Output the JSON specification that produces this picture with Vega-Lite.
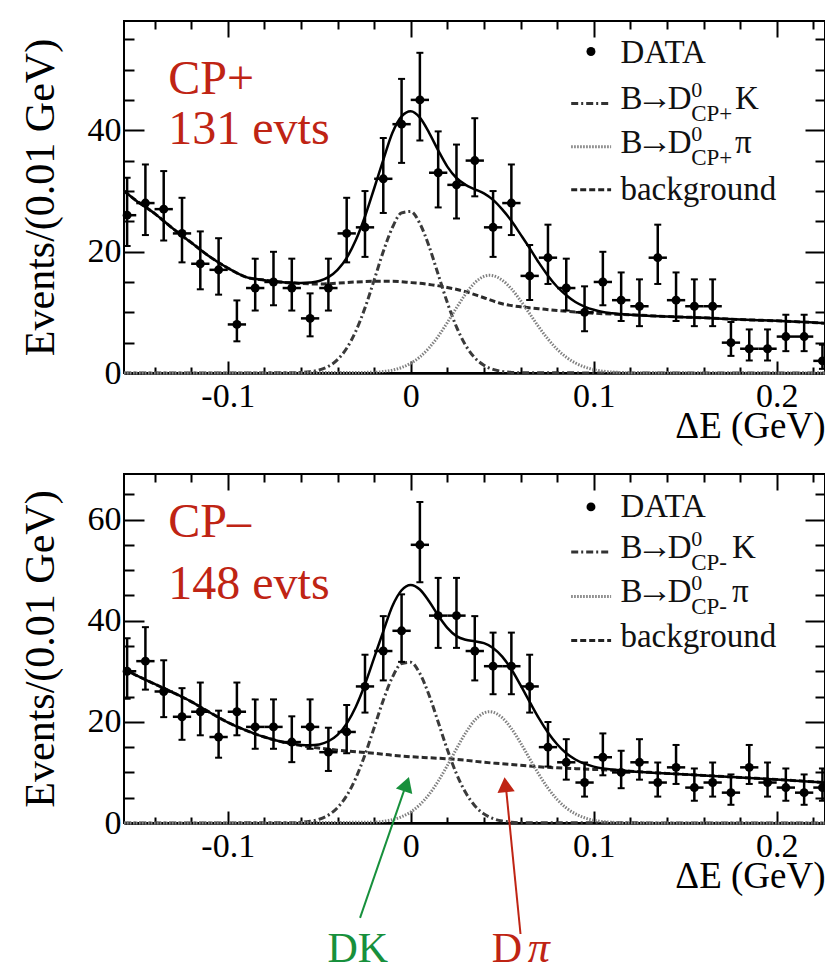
{
"$schema": "https://vega.github.io/schema/vega-lite/v6.json",
"padding": {"left": 18, "top": 19, "right": 0, "bottom": 0},
"background": "white",
"bounds": "flush",
"spacing": 101,
"datasets": {
"tD": [
{"x":-0.155,"x0":-0.16,"x1":-0.15,"n":26,"lo":20.93,"hi":32.17},
{"x":-0.145,"x0":-0.15,"x1":-0.14,"n":28,"lo":22.73,"hi":34.36},
{"x":-0.135,"x0":-0.14,"x1":-0.13,"n":27,"lo":21.83,"hi":33.27},
{"x":-0.125,"x0":-0.13,"x1":-0.12,"n":23,"lo":18.23,"hi":28.87},
{"x":-0.115,"x0":-0.12,"x1":-0.11,"n":18,"lo":13.79,"hi":23.33},
{"x":-0.105,"x0":-0.11,"x1":-0.1,"n":17,"lo":12.91,"hi":22.21},
{"x":-0.095,"x0":-0.1,"x1":-0.09,"n":8,"lo":5.22,"hi":11.96},
{"x":-0.085,"x0":-0.09,"x1":-0.08,"n":14,"lo":10.29,"hi":18.84},
{"x":-0.075,"x0":-0.08,"x1":-0.07,"n":15,"lo":11.16,"hi":19.97},
{"x":-0.065,"x0":-0.07,"x1":-0.06,"n":14,"lo":10.29,"hi":18.84},
{"x":-0.055,"x0":-0.06,"x1":-0.05,"n":9,"lo":6.04,"hi":13.12},
{"x":-0.045,"x0":-0.05,"x1":-0.04,"n":14,"lo":10.29,"hi":18.84},
{"x":-0.035,"x0":-0.04,"x1":-0.03,"n":23,"lo":18.23,"hi":28.87},
{"x":-0.025,"x0":-0.03,"x1":-0.02,"n":24,"lo":19.13,"hi":29.98},
{"x":-0.015,"x0":-0.02,"x1":-0.01,"n":32,"lo":26.37,"hi":38.72},
{"x":-0.005,"x0":-0.01,"x1":0,"n":41,"lo":34.62,"hi":48.46},
{"x":0.005,"x0":0,"x1":0.01,"n":45,"lo":38.31,"hi":52.76},
{"x":0.015,"x0":0.01,"x1":0.02,"n":33,"lo":27.28,"hi":39.81},
{"x":0.025,"x0":0.02,"x1":0.03,"n":31,"lo":25.46,"hi":37.64},
{"x":0.035,"x0":0.03,"x1":0.04,"n":35,"lo":29.11,"hi":41.98},
{"x":0.045,"x0":0.04,"x1":0.05,"n":24,"lo":19.13,"hi":29.98},
{"x":0.055,"x0":0.05,"x1":0.06,"n":28,"lo":22.73,"hi":34.36},
{"x":0.065,"x0":0.06,"x1":0.07,"n":16,"lo":12.03,"hi":21.09},
{"x":0.075,"x0":0.07,"x1":0.08,"n":19,"lo":14.67,"hi":24.44},
{"x":0.085,"x0":0.08,"x1":0.09,"n":14,"lo":10.29,"hi":18.84},
{"x":0.095,"x0":0.09,"x1":0.1,"n":10,"lo":6.88,"hi":14.28},
{"x":0.105,"x0":0.1,"x1":0.11,"n":15,"lo":11.16,"hi":19.97},
{"x":0.115,"x0":0.11,"x1":0.12,"n":12,"lo":8.57,"hi":16.57},
{"x":0.125,"x0":0.12,"x1":0.13,"n":11,"lo":7.72,"hi":15.43},
{"x":0.135,"x0":0.13,"x1":0.14,"n":19,"lo":14.67,"hi":24.44},
{"x":0.145,"x0":0.14,"x1":0.15,"n":12,"lo":8.57,"hi":16.57},
{"x":0.155,"x0":0.15,"x1":0.16,"n":11,"lo":7.72,"hi":15.43},
{"x":0.165,"x0":0.16,"x1":0.17,"n":11,"lo":7.72,"hi":15.43},
{"x":0.175,"x0":0.17,"x1":0.18,"n":5,"lo":2.82,"hi":8.4},
{"x":0.185,"x0":0.18,"x1":0.19,"n":4,"lo":2.06,"hi":7.18},
{"x":0.195,"x0":0.19,"x1":0.2,"n":4,"lo":2.06,"hi":7.18},
{"x":0.205,"x0":0.2,"x1":0.21,"n":6,"lo":3.6,"hi":9.6},
{"x":0.215,"x0":0.21,"x1":0.22,"n":6,"lo":3.6,"hi":9.6},
{"x":0.225,"x0":0.22,"x1":0.23,"n":2,"lo":0.68,"hi":4.66}
],
"bD": [
{"x":-0.155,"x0":-0.16,"x1":-0.15,"n":30,"lo":24.55,"hi":36.55},
{"x":-0.145,"x0":-0.15,"x1":-0.14,"n":32,"lo":26.37,"hi":38.72},
{"x":-0.135,"x0":-0.14,"x1":-0.13,"n":26,"lo":20.93,"hi":32.17},
{"x":-0.125,"x0":-0.13,"x1":-0.12,"n":21,"lo":16.45,"hi":26.66},
{"x":-0.115,"x0":-0.12,"x1":-0.11,"n":22,"lo":17.34,"hi":27.77},
{"x":-0.105,"x0":-0.11,"x1":-0.1,"n":17,"lo":12.91,"hi":22.21},
{"x":-0.095,"x0":-0.1,"x1":-0.09,"n":22,"lo":17.34,"hi":27.77},
{"x":-0.085,"x0":-0.09,"x1":-0.08,"n":19,"lo":14.67,"hi":24.44},
{"x":-0.075,"x0":-0.08,"x1":-0.07,"n":19,"lo":14.67,"hi":24.44},
{"x":-0.065,"x0":-0.07,"x1":-0.06,"n":16,"lo":12.03,"hi":21.09},
{"x":-0.055,"x0":-0.06,"x1":-0.05,"n":19,"lo":14.67,"hi":24.44},
{"x":-0.045,"x0":-0.05,"x1":-0.04,"n":14,"lo":10.29,"hi":18.84},
{"x":-0.035,"x0":-0.04,"x1":-0.03,"n":18,"lo":13.79,"hi":23.33},
{"x":-0.025,"x0":-0.03,"x1":-0.02,"n":27,"lo":21.83,"hi":33.27},
{"x":-0.015,"x0":-0.02,"x1":-0.01,"n":34,"lo":28.19,"hi":40.9},
{"x":-0.005,"x0":-0.01,"x1":0,"n":38,"lo":31.86,"hi":45.21},
{"x":0.005,"x0":0,"x1":0.01,"n":55,"lo":47.6,"hi":63.47},
{"x":0.015,"x0":0.01,"x1":0.02,"n":41,"lo":34.62,"hi":48.46},
{"x":0.025,"x0":0.02,"x1":0.03,"n":41,"lo":34.62,"hi":48.46},
{"x":0.035,"x0":0.03,"x1":0.04,"n":34,"lo":28.19,"hi":40.9},
{"x":0.045,"x0":0.04,"x1":0.05,"n":31,"lo":25.46,"hi":37.64},
{"x":0.055,"x0":0.05,"x1":0.06,"n":31,"lo":25.46,"hi":37.64},
{"x":0.065,"x0":0.06,"x1":0.07,"n":27,"lo":21.83,"hi":33.27},
{"x":0.075,"x0":0.07,"x1":0.08,"n":15,"lo":11.16,"hi":19.97},
{"x":0.085,"x0":0.08,"x1":0.09,"n":12,"lo":8.57,"hi":16.57},
{"x":0.095,"x0":0.09,"x1":0.1,"n":8,"lo":5.22,"hi":11.96},
{"x":0.105,"x0":0.1,"x1":0.11,"n":13,"lo":9.43,"hi":17.71},
{"x":0.115,"x0":0.11,"x1":0.12,"n":10,"lo":6.88,"hi":14.28},
{"x":0.125,"x0":0.12,"x1":0.13,"n":12,"lo":8.57,"hi":16.57},
{"x":0.135,"x0":0.13,"x1":0.14,"n":8,"lo":5.22,"hi":11.96},
{"x":0.145,"x0":0.14,"x1":0.15,"n":11,"lo":7.72,"hi":15.43},
{"x":0.155,"x0":0.15,"x1":0.16,"n":7,"lo":4.4,"hi":10.78},
{"x":0.165,"x0":0.16,"x1":0.17,"n":8,"lo":5.22,"hi":11.96},
{"x":0.175,"x0":0.17,"x1":0.18,"n":6,"lo":3.6,"hi":9.6},
{"x":0.185,"x0":0.18,"x1":0.19,"n":11,"lo":7.72,"hi":15.43},
{"x":0.195,"x0":0.19,"x1":0.2,"n":8,"lo":5.22,"hi":11.96},
{"x":0.205,"x0":0.2,"x1":0.21,"n":7,"lo":4.4,"hi":10.78},
{"x":0.215,"x0":0.21,"x1":0.22,"n":6,"lo":3.6,"hi":9.6},
{"x":0.225,"x0":0.22,"x1":0.23,"n":7,"lo":4.4,"hi":10.78}
],
"tT": [
{"x":-0.1567,"v":30.0},{"x":-0.15,"v":28.4},{"x":-0.14,"v":26.3},{"x":-0.13,"v":23.8},{"x":-0.12,"v":21.5},{"x":-0.11,"v":19.2},{"x":-0.1,"v":17.3},{"x":-0.09,"v":15.8},{"x":-0.08,"v":15.3},{"x":-0.07,"v":14.95},{"x":-0.065,"v":14.88},{"x":-0.06,"v":14.83},{"x":-0.055,"v":14.91},{"x":-0.05,"v":15.15},{"x":-0.045,"v":15.79},{"x":-0.04,"v":17.0},{"x":-0.035,"v":18.97},{"x":-0.03,"v":21.9},{"x":-0.025,"v":25.78},{"x":-0.02,"v":30.4},{"x":-0.015,"v":35.11},{"x":-0.01,"v":39.57},{"x":-0.005,"v":42.28},{"x":0,"v":43.12},{"x":0.005,"v":42.07},{"x":0.01,"v":39.62},{"x":0.015,"v":36.69},{"x":0.02,"v":34.01},{"x":0.025,"v":32.13},{"x":0.03,"v":30.99},{"x":0.035,"v":30.27},{"x":0.04,"v":29.59},{"x":0.045,"v":28.52},{"x":0.05,"v":26.95},{"x":0.055,"v":25.07},{"x":0.06,"v":22.84},{"x":0.065,"v":20.57},{"x":0.07,"v":18.18},{"x":0.075,"v":16.04},{"x":0.08,"v":14.21},{"x":0.085,"v":12.8},{"x":0.09,"v":11.69},{"x":0.095,"v":10.94},{"x":0.1,"v":10.41},{"x":0.105,"v":10.05},{"x":0.11,"v":9.86},{"x":0.12,"v":9.6},{"x":0.14,"v":9.3},{"x":0.16,"v":9.1},{"x":0.18,"v":8.8},{"x":0.2,"v":8.6},{"x":0.2264,"v":8.2}
],
"tB": [
{"x":-0.1567,"v":30.0},{"x":-0.15,"v":28.4},{"x":-0.14,"v":26.3},{"x":-0.13,"v":23.8},{"x":-0.12,"v":21.5},{"x":-0.11,"v":19.2},{"x":-0.1,"v":17.3},{"x":-0.09,"v":15.8},{"x":-0.08,"v":15.3},{"x":-0.07,"v":14.95},{"x":-0.06,"v":14.75},{"x":-0.05,"v":14.65},{"x":-0.04,"v":14.8},{"x":-0.03,"v":15.0},{"x":-0.02,"v":15.1},{"x":-0.01,"v":15.1},{"x":0,"v":14.9},{"x":0.01,"v":14.6},{"x":0.02,"v":14.1},{"x":0.03,"v":13.4},{"x":0.04,"v":12.4},{"x":0.05,"v":11.4},{"x":0.06,"v":10.9},{"x":0.07,"v":10.6},{"x":0.08,"v":10.3},{"x":0.09,"v":10.05},{"x":0.1,"v":9.85},{"x":0.11,"v":9.7},{"x":0.12,"v":9.6},{"x":0.14,"v":9.3},{"x":0.16,"v":9.1},{"x":0.18,"v":8.8},{"x":0.2,"v":8.6},{"x":0.2264,"v":8.2}
],
"tK": [
{"x":-0.1567,"v":0},{"x":-0.065,"v":0.03},{"x":-0.06,"v":0.08},{"x":-0.055,"v":0.21},{"x":-0.05,"v":0.5},{"x":-0.045,"v":1.09},{"x":-0.04,"v":2.2},{"x":-0.035,"v":4.07},{"x":-0.03,"v":6.9},{"x":-0.025,"v":10.73},{"x":-0.02,"v":15.3},{"x":-0.015,"v":20.01},{"x":-0.01,"v":23.99},{"x":-0.005,"v":26.38},{"x":0,"v":26.62},{"x":0.005,"v":24.62},{"x":0.01,"v":20.89},{"x":0.015,"v":16.25},{"x":0.02,"v":11.6},{"x":0.025,"v":7.59},{"x":0.03,"v":4.56},{"x":0.035,"v":2.51},{"x":0.04,"v":1.27},{"x":0.045,"v":0.59},{"x":0.05,"v":0.25},{"x":0.055,"v":0.1},{"x":0.06,"v":0.03},{"x":0.2264,"v":0}
],
"tP": [
{"x":-0.1567,"v":0},{"x":-0.02,"v":0.11},{"x":-0.015,"v":0.24},{"x":-0.01,"v":0.48},{"x":-0.005,"v":0.9},{"x":0,"v":1.6},{"x":0.005,"v":2.65},{"x":0.01,"v":4.13},{"x":0.015,"v":6.04},{"x":0.02,"v":8.31},{"x":0.025,"v":10.74},{"x":0.03,"v":13.03},{"x":0.035,"v":14.86},{"x":0.04,"v":15.92},{"x":0.043,"v":16.1},{"x":0.045,"v":16.03},{"x":0.05,"v":15.3},{"x":0.055,"v":13.87},{"x":0.06,"v":11.94},{"x":0.065,"v":9.77},{"x":0.07,"v":7.58},{"x":0.075,"v":5.59},{"x":0.08,"v":3.91},{"x":0.085,"v":2.6},{"x":0.09,"v":1.64},{"x":0.095,"v":0.99},{"x":0.1,"v":0.56},{"x":0.105,"v":0.3},{"x":0.11,"v":0.16},{"x":0.115,"v":0.08},{"x":0.12,"v":0.04},{"x":0.2264,"v":0}
],
"bT": [
{"x":-0.1567,"v":30.4},{"x":-0.15,"v":29.2},{"x":-0.14,"v":27.5},{"x":-0.13,"v":25.8},{"x":-0.12,"v":24.0},{"x":-0.11,"v":21.9},{"x":-0.1,"v":19.9},{"x":-0.09,"v":18.3},{"x":-0.08,"v":17.0},{"x":-0.07,"v":16.0},{"x":-0.065,"v":15.65},{"x":-0.06,"v":15.43},{"x":-0.055,"v":15.38},{"x":-0.05,"v":15.54},{"x":-0.045,"v":16.16},{"x":-0.04,"v":17.43},{"x":-0.035,"v":19.66},{"x":-0.03,"v":23.0},{"x":-0.025,"v":27.44},{"x":-0.02,"v":32.65},{"x":-0.015,"v":37.88},{"x":-0.01,"v":42.89},{"x":-0.005,"v":46.01},{"x":0,"v":47.07},{"x":0.005,"v":46.16},{"x":0.01,"v":43.84},{"x":0.015,"v":41.02},{"x":0.02,"v":38.58},{"x":0.025,"v":36.95},{"x":0.03,"v":36.22},{"x":0.035,"v":35.93},{"x":0.04,"v":35.55},{"x":0.045,"v":34.62},{"x":0.05,"v":32.9},{"x":0.055,"v":30.39},{"x":0.06,"v":27.25},{"x":0.065,"v":23.96},{"x":0.07,"v":20.73},{"x":0.075,"v":17.89},{"x":0.08,"v":15.56},{"x":0.085,"v":13.78},{"x":0.09,"v":12.55},{"x":0.095,"v":11.73},{"x":0.1,"v":11.15},{"x":0.105,"v":10.78},{"x":0.11,"v":10.59},{"x":0.12,"v":10.25},{"x":0.14,"v":9.8},{"x":0.16,"v":9.4},{"x":0.18,"v":9.0},{"x":0.2,"v":8.6},{"x":0.2264,"v":8.0}
],
"bB": [
{"x":-0.1567,"v":30.4},{"x":-0.15,"v":29.2},{"x":-0.14,"v":27.5},{"x":-0.13,"v":25.8},{"x":-0.12,"v":24.0},{"x":-0.11,"v":21.9},{"x":-0.1,"v":19.9},{"x":-0.09,"v":18.3},{"x":-0.08,"v":17.0},{"x":-0.07,"v":16.0},{"x":-0.06,"v":15.3},{"x":-0.05,"v":14.8},{"x":-0.04,"v":14.4},{"x":-0.03,"v":14.1},{"x":-0.02,"v":13.8},{"x":-0.01,"v":13.4},{"x":0,"v":13.1},{"x":0.01,"v":12.9},{"x":0.02,"v":12.7},{"x":0.03,"v":12.4},{"x":0.04,"v":12.0},{"x":0.05,"v":11.7},{"x":0.06,"v":11.4},{"x":0.07,"v":11.1},{"x":0.08,"v":10.9},{"x":0.09,"v":10.75},{"x":0.1,"v":10.6},{"x":0.11,"v":10.45},{"x":0.12,"v":10.25},{"x":0.14,"v":9.8},{"x":0.16,"v":9.4},{"x":0.18,"v":9.0},{"x":0.2,"v":8.6},{"x":0.2264,"v":8.0}
],
"bK": [
{"x":-0.1567,"v":0},{"x":-0.065,"v":0.05},{"x":-0.06,"v":0.13},{"x":-0.055,"v":0.33},{"x":-0.05,"v":0.74},{"x":-0.045,"v":1.56},{"x":-0.04,"v":3.03},{"x":-0.035,"v":5.41},{"x":-0.03,"v":8.9},{"x":-0.025,"v":13.49},{"x":-0.02,"v":18.85},{"x":-0.015,"v":24.28},{"x":-0.01,"v":28.83},{"x":-0.005,"v":31.53},{"x":0,"v":31.79},{"x":0.005,"v":29.54},{"x":0.01,"v":25.3},{"x":0.015,"v":19.96},{"x":0.02,"v":14.52},{"x":0.025,"v":9.73},{"x":0.03,"v":6.01},{"x":0.035,"v":3.42},{"x":0.04,"v":1.8},{"x":0.045,"v":0.87},{"x":0.05,"v":0.39},{"x":0.055,"v":0.16},{"x":0.06,"v":0.06},{"x":0.2264,"v":0}
],
"bP": [
{"x":-0.1567,"v":0},{"x":-0.02,"v":0.15},{"x":-0.015,"v":0.33},{"x":-0.01,"v":0.66},{"x":-0.005,"v":1.23},{"x":0,"v":2.18},{"x":0.005,"v":3.62},{"x":0.01,"v":5.64},{"x":0.015,"v":8.26},{"x":0.02,"v":11.36},{"x":0.025,"v":14.67},{"x":0.03,"v":17.81},{"x":0.035,"v":20.31},{"x":0.04,"v":21.75},{"x":0.043,"v":22},{"x":0.045,"v":21.9},{"x":0.05,"v":20.81},{"x":0.055,"v":18.68},{"x":0.06,"v":15.85},{"x":0.065,"v":12.71},{"x":0.07,"v":9.63},{"x":0.075,"v":6.89},{"x":0.08,"v":4.66},{"x":0.085,"v":2.98},{"x":0.09,"v":1.8},{"x":0.095,"v":1.03},{"x":0.1,"v":0.55},{"x":0.105,"v":0.28},{"x":0.11,"v":0.14},{"x":0.115,"v":0.07},{"x":0.12,"v":0.03},{"x":0.2264,"v":0}
]
},
"vconcat": [
{
"width": 701, "height": 352,
"resolve": {"axis": {"x": "independent", "y": "independent"}},
"layer": [
{"data": {"name": "tB"}, "mark": {"type": "line", "interpolate": "monotone", "color": "#2a2a2a", "strokeWidth": 3, "strokeDash": [6, 3]},
 "encoding": {"x": {"field": "x", "type": "quantitative", "scale": {"domain": [-0.1567, 0.2264], "nice": false, "zero": false}, "axis": {"orient": "bottom", "values": [-0.14,-0.12,-0.08,-0.06,-0.04,-0.02,0.02,0.04,0.06,0.08,0.12,0.14,0.16,0.18,0.22], "tickSize": -6, "labels": false, "domain": false, "title": null}},
  "y": {"field": "v", "type": "quantitative", "scale": {"domain": [0, 58], "nice": false, "zero": false}, "axis": {"orient": "left", "values": [5,10,15,25,30,35,45,50,55], "tickSize": -10, "labels": false, "domain": false, "title": null}}}},
{"data": {"name": "tK"}, "mark": {"type": "line", "interpolate": "monotone", "color": "#3a3a3a", "strokeWidth": 3, "strokeDash": [7, 3, 2, 3]},
 "encoding": {"x": {"field": "x", "type": "quantitative", "scale": {"domain": [-0.1567, 0.2264], "nice": false, "zero": false}, "axis": {"orient": "top", "values": [-0.1, 0, 0.1, 0.2], "tickSize": -16, "labels": false, "domain": false, "title": null}},
  "y": {"field": "v", "type": "quantitative", "scale": {"domain": [0, 58], "nice": false, "zero": false}, "axis": {"orient": "right", "values": [0, 20, 40], "tickSize": -20, "labels": false, "domain": false, "title": null}}}},
{"data": {"name": "tP"}, "mark": {"type": "line", "interpolate": "monotone", "color": "#808080", "strokeWidth": 3, "strokeDash": [1.5, 1.5]},
 "encoding": {"x": {"field": "x", "type": "quantitative", "scale": {"domain": [-0.1567, 0.2264], "nice": false, "zero": false}, "axis": {"orient": "top", "values": [-0.14,-0.12,-0.08,-0.06,-0.04,-0.02,0.02,0.04,0.06,0.08,0.12,0.14,0.16,0.18,0.22], "tickSize": -8, "labels": false, "domain": false, "title": null}},
  "y": {"field": "v", "type": "quantitative", "scale": {"domain": [0, 58], "nice": false, "zero": false}, "axis": {"orient": "right", "values": [5,10,15,25,30,35,45,50,55], "tickSize": -10, "labels": false, "domain": false, "title": null}}}},
{"data": {"name": "tT"}, "mark": {"type": "line", "interpolate": "monotone", "color": "#000", "strokeWidth": 2.5},
 "encoding": {"x": {"field": "x", "type": "quantitative", "scale": {"domain": [-0.1567, 0.2264], "nice": false, "zero": false}, "axis": {"orient": "bottom", "values": [-0.1, 0, 0.1, 0.2], "tickSize": -12, "labelPadding": 18, "labelExpr": "datum.value==0?'0':(datum.value<0?'-':'')+format(abs(datum.value),'.1f')", "title": "ΔE (GeV)", "titleFontSize": 37, "titleAnchor": "end", "titlePadding": -5, "domain": true, "domainWidth": 2.5}},
  "y": {"field": "v", "type": "quantitative", "scale": {"domain": [0, 58], "nice": false, "zero": false}, "axis": {"orient": "left", "values": [0, 20, 40], "tickSize": -20, "labelPadding": 23, "title": "Events/(0.01 GeV)", "titleFontSize": 42, "titlePadding": 25, "domain": false}}}},
{"data": {"name": "tD"}, "mark": {"type": "rule", "color": "#000", "strokeWidth": 2.5},
 "encoding": {"x": {"field": "x", "type": "quantitative", "axis": null}, "y": {"field": "lo", "type": "quantitative", "axis": null}, "y2": {"field": "hi"}}},
{"data": {"name": "tD"}, "mark": {"type": "rule", "color": "#000", "strokeWidth": 2.5, "clip": true},
 "encoding": {"x": {"field": "x0", "type": "quantitative", "axis": null}, "x2": {"field": "x1"}, "y": {"field": "n", "type": "quantitative", "axis": null}}},
{"data": {"name": "tD"}, "mark": {"type": "tick", "orient": "horizontal", "size": 7, "thickness": 2, "color": "#000", "opacity": 1},
 "encoding": {"x": {"field": "x", "type": "quantitative", "axis": null}, "y": {"field": "hi", "type": "quantitative", "axis": null}}},
{"data": {"name": "tD"}, "mark": {"type": "tick", "orient": "horizontal", "size": 7, "thickness": 2, "color": "#000", "opacity": 1},
 "encoding": {"x": {"field": "x", "type": "quantitative", "axis": null}, "y": {"field": "lo", "type": "quantitative", "axis": null}}},
{"data": {"name": "tD"}, "mark": {"type": "point", "filled": true, "shape": "circle", "size": 80, "color": "#000", "opacity": 1},
 "encoding": {"x": {"field": "x", "type": "quantitative", "axis": null}, "y": {"field": "n", "type": "quantitative", "axis": null}}},
{"data": {"values": [{}]}, "mark": {"type": "text", "text": "CP+", "fontSize": 48, "color": "#bf2414", "align": "left", "baseline": "alphabetic"},
 "encoding": {"x": {"datum": -0.1325, "axis": null}, "y": {"datum": 46.0, "axis": null}}},
{"data": {"values": [{}]}, "mark": {"type": "text", "text": "131 evts", "fontSize": 48, "color": "#bf2414", "align": "left", "baseline": "alphabetic"},
 "encoding": {"x": {"datum": -0.1325, "axis": null}, "y": {"datum": 37.7, "axis": null}}},
{"data": {"values": [{}]}, "mark": {"type": "point", "filled": true, "shape": "circle", "size": 80, "color": "#000", "opacity": 1},
 "encoding": {"x": {"datum": 0.0985, "axis": null}, "y": {"datum": 52.97, "axis": null}}},
{"data": {"values": [{}]}, "mark": {"type": "text", "text": "DATA", "fontSize": 33, "color": "#111", "align": "left", "baseline": "alphabetic"},
 "encoding": {"x": {"datum": 0.1146, "axis": null}, "y": {"datum": 51.0, "axis": null}}},
{"data": {"values": [{}]}, "mark": {"type": "rule", "color": "#333", "strokeWidth": 3, "strokeDash": [7, 3, 2, 3]},
 "encoding": {"x": {"datum": 0.0877, "axis": null}, "x2": {"datum": 0.1095}, "y": {"datum": 44.4, "axis": null}}},
{"data": {"values": [{}]}, "mark": {"type": "text", "text": "B", "fontSize": 33, "color": "#111", "align": "left", "baseline": "alphabetic"},
 "encoding": {"x": {"datum": 0.1146, "axis": null}, "y": {"datum": 43.5, "axis": null}}},
{"data": {"values": [{}]}, "mark": {"type": "text", "text": "→", "fontSize": 36, "color": "#111", "align": "left", "baseline": "alphabetic"},
 "encoding": {"x": {"datum": 0.1235, "axis": null}, "y": {"datum": 43.5, "axis": null}}},
{"data": {"values": [{}]}, "mark": {"type": "text", "text": "D", "fontSize": 33, "color": "#111", "align": "left", "baseline": "alphabetic"},
 "encoding": {"x": {"datum": 0.1405, "axis": null}, "y": {"datum": 43.5, "axis": null}}},
{"data": {"values": [{}]}, "mark": {"type": "text", "text": "0", "fontSize": 22, "color": "#111", "align": "left", "baseline": "alphabetic", "dy": -12},
 "encoding": {"x": {"datum": 0.1533, "axis": null}, "y": {"datum": 43.5, "axis": null}}},
{"data": {"values": [{}]}, "mark": {"type": "text", "text": "CP+", "fontSize": 23, "color": "#111", "align": "left", "baseline": "alphabetic", "dy": 12},
 "encoding": {"x": {"datum": 0.1533, "axis": null}, "y": {"datum": 43.5, "axis": null}}},
{"data": {"values": [{}]}, "mark": {"type": "text", "text": "K", "fontSize": 33, "color": "#111", "align": "left", "baseline": "alphabetic"},
 "encoding": {"x": {"datum": 0.1772, "axis": null}, "y": {"datum": 43.5, "axis": null}}},
{"data": {"values": [{}]}, "mark": {"type": "rule", "color": "#777", "strokeWidth": 3, "strokeDash": [1.5, 1.5]},
 "encoding": {"x": {"datum": 0.0877, "axis": null}, "x2": {"datum": 0.1095}, "y": {"datum": 37.3, "axis": null}}},
{"data": {"values": [{}]}, "mark": {"type": "text", "text": "B", "fontSize": 33, "color": "#111", "align": "left", "baseline": "alphabetic"},
 "encoding": {"x": {"datum": 0.1146, "axis": null}, "y": {"datum": 36.2, "axis": null}}},
{"data": {"values": [{}]}, "mark": {"type": "text", "text": "→", "fontSize": 36, "color": "#111", "align": "left", "baseline": "alphabetic"},
 "encoding": {"x": {"datum": 0.1235, "axis": null}, "y": {"datum": 36.2, "axis": null}}},
{"data": {"values": [{}]}, "mark": {"type": "text", "text": "D", "fontSize": 33, "color": "#111", "align": "left", "baseline": "alphabetic"},
 "encoding": {"x": {"datum": 0.1405, "axis": null}, "y": {"datum": 36.2, "axis": null}}},
{"data": {"values": [{}]}, "mark": {"type": "text", "text": "0", "fontSize": 22, "color": "#111", "align": "left", "baseline": "alphabetic", "dy": -12},
 "encoding": {"x": {"datum": 0.1533, "axis": null}, "y": {"datum": 36.2, "axis": null}}},
{"data": {"values": [{}]}, "mark": {"type": "text", "text": "CP+", "fontSize": 23, "color": "#111", "align": "left", "baseline": "alphabetic", "dy": 12},
 "encoding": {"x": {"datum": 0.1533, "axis": null}, "y": {"datum": 36.2, "axis": null}}},
{"data": {"values": [{}]}, "mark": {"type": "text", "text": "π", "fontSize": 33, "color": "#111", "align": "left", "baseline": "alphabetic"},
 "encoding": {"x": {"datum": 0.1772, "axis": null}, "y": {"datum": 36.2, "axis": null}}},
{"data": {"values": [{}]}, "mark": {"type": "rule", "color": "#222", "strokeWidth": 3, "strokeDash": [6, 3]},
 "encoding": {"x": {"datum": 0.0877, "axis": null}, "x2": {"datum": 0.1095}, "y": {"datum": 30.2, "axis": null}}},
{"data": {"values": [{}]}, "mark": {"type": "text", "text": "background", "fontSize": 33, "color": "#111", "align": "left", "baseline": "alphabetic"},
 "encoding": {"x": {"datum": 0.1146, "axis": null}, "y": {"datum": 28.55, "axis": null}}}
]
},
{
"width": 701, "height": 349,
"resolve": {"axis": {"x": "independent", "y": "independent"}},
"layer": [
{"data": {"name": "bB"}, "mark": {"type": "line", "interpolate": "monotone", "color": "#2a2a2a", "strokeWidth": 3, "strokeDash": [6, 3]},
 "encoding": {"x": {"field": "x", "type": "quantitative", "scale": {"domain": [-0.1567, 0.2264], "nice": false, "zero": false}, "axis": {"orient": "bottom", "values": [-0.14,-0.12,-0.08,-0.06,-0.04,-0.02,0.02,0.04,0.06,0.08,0.12,0.14,0.16,0.18,0.22], "tickSize": -6, "labels": false, "domain": false, "title": null}},
  "y": {"field": "v", "type": "quantitative", "scale": {"domain": [0, 69], "nice": false, "zero": false}, "axis": {"orient": "left", "values": [5,10,15,25,30,35,45,50,55,65], "tickSize": -10, "labels": false, "domain": false, "title": null}}}},
{"data": {"name": "bK"}, "mark": {"type": "line", "interpolate": "monotone", "color": "#3a3a3a", "strokeWidth": 3, "strokeDash": [7, 3, 2, 3]},
 "encoding": {"x": {"field": "x", "type": "quantitative", "scale": {"domain": [-0.1567, 0.2264], "nice": false, "zero": false}, "axis": {"orient": "top", "values": [-0.1, 0, 0.1, 0.2], "tickSize": -16, "labels": false, "domain": false, "title": null}},
  "y": {"field": "v", "type": "quantitative", "scale": {"domain": [0, 69], "nice": false, "zero": false}, "axis": {"orient": "right", "values": [0, 20, 40, 60], "tickSize": -20, "labels": false, "domain": false, "title": null}}}},
{"data": {"name": "bP"}, "mark": {"type": "line", "interpolate": "monotone", "color": "#808080", "strokeWidth": 3, "strokeDash": [1.5, 1.5]},
 "encoding": {"x": {"field": "x", "type": "quantitative", "scale": {"domain": [-0.1567, 0.2264], "nice": false, "zero": false}, "axis": {"orient": "top", "values": [-0.14,-0.12,-0.08,-0.06,-0.04,-0.02,0.02,0.04,0.06,0.08,0.12,0.14,0.16,0.18,0.22], "tickSize": -8, "labels": false, "domain": false, "title": null}},
  "y": {"field": "v", "type": "quantitative", "scale": {"domain": [0, 69], "nice": false, "zero": false}, "axis": {"orient": "right", "values": [5,10,15,25,30,35,45,50,55,65], "tickSize": -10, "labels": false, "domain": false, "title": null}}}},
{"data": {"name": "bT"}, "mark": {"type": "line", "interpolate": "monotone", "color": "#000", "strokeWidth": 2.5},
 "encoding": {"x": {"field": "x", "type": "quantitative", "scale": {"domain": [-0.1567, 0.2264], "nice": false, "zero": false}, "axis": {"orient": "bottom", "values": [-0.1, 0, 0.1, 0.2], "tickSize": -12, "labelPadding": 18, "labelExpr": "datum.value==0?'0':(datum.value<0?'-':'')+format(abs(datum.value),'.1f')", "title": "ΔE (GeV)", "titleFontSize": 37, "titleAnchor": "end", "titlePadding": -5, "domain": true, "domainWidth": 2.5}},
  "y": {"field": "v", "type": "quantitative", "scale": {"domain": [0, 69], "nice": false, "zero": false}, "axis": {"orient": "left", "values": [0, 20, 40, 60], "tickSize": -20, "labelPadding": 23, "title": "Events/(0.01 GeV)", "titleFontSize": 42, "titlePadding": 25, "domain": false}}}},
{"data": {"name": "bD"}, "mark": {"type": "rule", "color": "#000", "strokeWidth": 2.5},
 "encoding": {"x": {"field": "x", "type": "quantitative", "axis": null}, "y": {"field": "lo", "type": "quantitative", "axis": null}, "y2": {"field": "hi"}}},
{"data": {"name": "bD"}, "mark": {"type": "rule", "color": "#000", "strokeWidth": 2.5, "clip": true},
 "encoding": {"x": {"field": "x0", "type": "quantitative", "axis": null}, "x2": {"field": "x1"}, "y": {"field": "n", "type": "quantitative", "axis": null}}},
{"data": {"name": "bD"}, "mark": {"type": "tick", "orient": "horizontal", "size": 7, "thickness": 2, "color": "#000", "opacity": 1},
 "encoding": {"x": {"field": "x", "type": "quantitative", "axis": null}, "y": {"field": "hi", "type": "quantitative", "axis": null}}},
{"data": {"name": "bD"}, "mark": {"type": "tick", "orient": "horizontal", "size": 7, "thickness": 2, "color": "#000", "opacity": 1},
 "encoding": {"x": {"field": "x", "type": "quantitative", "axis": null}, "y": {"field": "lo", "type": "quantitative", "axis": null}}},
{"data": {"name": "bD"}, "mark": {"type": "point", "filled": true, "shape": "circle", "size": 80, "color": "#000", "opacity": 1},
 "encoding": {"x": {"field": "x", "type": "quantitative", "axis": null}, "y": {"field": "n", "type": "quantitative", "axis": null}}},
{"data": {"values": [{}]}, "mark": {"type": "text", "text": "CP–", "fontSize": 48, "color": "#bf2414", "align": "left", "baseline": "alphabetic"},
 "encoding": {"x": {"datum": -0.1325, "axis": null}, "y": {"datum": 56.5, "axis": null}}},
{"data": {"values": [{}]}, "mark": {"type": "text", "text": "148 evts", "fontSize": 48, "color": "#bf2414", "align": "left", "baseline": "alphabetic"},
 "encoding": {"x": {"datum": -0.1325, "axis": null}, "y": {"datum": 44.3, "axis": null}}},
{"data": {"values": [{}]}, "mark": {"type": "point", "filled": true, "shape": "circle", "size": 80, "color": "#000", "opacity": 1},
 "encoding": {"x": {"datum": 0.0985, "axis": null}, "y": {"datum": 62.5, "axis": null}}},
{"data": {"values": [{}]}, "mark": {"type": "text", "text": "DATA", "fontSize": 33, "color": "#111", "align": "left", "baseline": "alphabetic"},
 "encoding": {"x": {"datum": 0.1146, "axis": null}, "y": {"datum": 60.5, "axis": null}}},
{"data": {"values": [{}]}, "mark": {"type": "rule", "color": "#333", "strokeWidth": 3, "strokeDash": [7, 3, 2, 3]},
 "encoding": {"x": {"datum": 0.0877, "axis": null}, "x2": {"datum": 0.1095}, "y": {"datum": 53.6, "axis": null}}},
{"data": {"values": [{}]}, "mark": {"type": "text", "text": "B", "fontSize": 33, "color": "#111", "align": "left", "baseline": "alphabetic"},
 "encoding": {"x": {"datum": 0.1146, "axis": null}, "y": {"datum": 52.3, "axis": null}}},
{"data": {"values": [{}]}, "mark": {"type": "text", "text": "→", "fontSize": 36, "color": "#111", "align": "left", "baseline": "alphabetic"},
 "encoding": {"x": {"datum": 0.1235, "axis": null}, "y": {"datum": 52.3, "axis": null}}},
{"data": {"values": [{}]}, "mark": {"type": "text", "text": "D", "fontSize": 33, "color": "#111", "align": "left", "baseline": "alphabetic"},
 "encoding": {"x": {"datum": 0.1405, "axis": null}, "y": {"datum": 52.3, "axis": null}}},
{"data": {"values": [{}]}, "mark": {"type": "text", "text": "0", "fontSize": 22, "color": "#111", "align": "left", "baseline": "alphabetic", "dy": -12},
 "encoding": {"x": {"datum": 0.1533, "axis": null}, "y": {"datum": 52.3, "axis": null}}},
{"data": {"values": [{}]}, "mark": {"type": "text", "text": "CP-", "fontSize": 23, "color": "#111", "align": "left", "baseline": "alphabetic", "dy": 12},
 "encoding": {"x": {"datum": 0.1533, "axis": null}, "y": {"datum": 52.3, "axis": null}}},
{"data": {"values": [{}]}, "mark": {"type": "text", "text": "K", "fontSize": 33, "color": "#111", "align": "left", "baseline": "alphabetic"},
 "encoding": {"x": {"datum": 0.1756, "axis": null}, "y": {"datum": 52.3, "axis": null}}},
{"data": {"values": [{}]}, "mark": {"type": "rule", "color": "#777", "strokeWidth": 3, "strokeDash": [1.5, 1.5]},
 "encoding": {"x": {"datum": 0.0877, "axis": null}, "x2": {"datum": 0.1095}, "y": {"datum": 44.8, "axis": null}}},
{"data": {"values": [{}]}, "mark": {"type": "text", "text": "B", "fontSize": 33, "color": "#111", "align": "left", "baseline": "alphabetic"},
 "encoding": {"x": {"datum": 0.1146, "axis": null}, "y": {"datum": 43.7, "axis": null}}},
{"data": {"values": [{}]}, "mark": {"type": "text", "text": "→", "fontSize": 36, "color": "#111", "align": "left", "baseline": "alphabetic"},
 "encoding": {"x": {"datum": 0.1235, "axis": null}, "y": {"datum": 43.7, "axis": null}}},
{"data": {"values": [{}]}, "mark": {"type": "text", "text": "D", "fontSize": 33, "color": "#111", "align": "left", "baseline": "alphabetic"},
 "encoding": {"x": {"datum": 0.1405, "axis": null}, "y": {"datum": 43.7, "axis": null}}},
{"data": {"values": [{}]}, "mark": {"type": "text", "text": "0", "fontSize": 22, "color": "#111", "align": "left", "baseline": "alphabetic", "dy": -12},
 "encoding": {"x": {"datum": 0.1533, "axis": null}, "y": {"datum": 43.7, "axis": null}}},
{"data": {"values": [{}]}, "mark": {"type": "text", "text": "CP-", "fontSize": 23, "color": "#111", "align": "left", "baseline": "alphabetic", "dy": 12},
 "encoding": {"x": {"datum": 0.1533, "axis": null}, "y": {"datum": 43.7, "axis": null}}},
{"data": {"values": [{}]}, "mark": {"type": "text", "text": "π", "fontSize": 33, "color": "#111", "align": "left", "baseline": "alphabetic"},
 "encoding": {"x": {"datum": 0.1756, "axis": null}, "y": {"datum": 43.7, "axis": null}}},
{"data": {"values": [{}]}, "mark": {"type": "rule", "color": "#222", "strokeWidth": 3, "strokeDash": [6, 3]},
 "encoding": {"x": {"datum": 0.0877, "axis": null}, "x2": {"datum": 0.1095}, "y": {"datum": 36.1, "axis": null}}},
{"data": {"values": [{}]}, "mark": {"type": "text", "text": "background", "fontSize": 33, "color": "#111", "align": "left", "baseline": "alphabetic"},
 "encoding": {"x": {"datum": 0.1146, "axis": null}, "y": {"datum": 34.8, "axis": null}}},
{"data": {"values": [{}]}, "mark": {"type": "rule", "color": "#17903c", "strokeWidth": 2, "clip": false},
 "encoding": {"x": {"datum": -0.0277, "axis": null}, "y": {"datum": -18.75, "axis": null}, "x2": {"datum": -0.0031}, "y2": {"datum": 7.0}}},
{"data": {"values": [{}]}, "mark": {"type": "point", "shape": "triangle-up", "filled": true, "size": 300, "angle": 19, "color": "#17903c", "opacity": 1, "clip": false},
 "encoding": {"x": {"datum": -0.0023, "axis": null}, "y": {"datum": 7.67, "axis": null}}},
{"data": {"values": [{}]}, "mark": {"type": "rule", "color": "#bf2414", "strokeWidth": 2, "clip": false},
 "encoding": {"x": {"datum": 0.06, "axis": null}, "y": {"datum": -21.95, "axis": null}, "x2": {"datum": 0.052}, "y2": {"datum": 7.2}}},
{"data": {"values": [{}]}, "mark": {"type": "point", "shape": "triangle-up", "filled": true, "size": 300, "angle": 354, "color": "#bf2414", "opacity": 1, "clip": false},
 "encoding": {"x": {"datum": 0.0517, "axis": null}, "y": {"datum": 7.57, "axis": null}}},
{"data": {"values": [{}]}, "mark": {"type": "text", "text": "DK", "fontSize": 42, "color": "#17903c", "align": "center", "baseline": "alphabetic", "clip": false},
 "encoding": {"x": {"datum": -0.0289, "axis": null}, "y": {"datum": -27.5, "axis": null}}},
{"data": {"values": [{}]}, "mark": {"type": "text", "text": "D", "fontSize": 42, "color": "#bf2414", "align": "left", "baseline": "alphabetic", "clip": false},
 "encoding": {"x": {"datum": 0.0443, "axis": null}, "y": {"datum": -27.5, "axis": null}}},
{"data": {"values": [{}]}, "mark": {"type": "text", "text": "π", "fontSize": 44, "fontStyle": "italic", "color": "#bf2414", "align": "left", "baseline": "alphabetic", "clip": false},
 "encoding": {"x": {"datum": 0.064, "axis": null}, "y": {"datum": -27.5, "axis": null}}}
]
}
],
"config": {
 "view": {"stroke": "#000", "strokeWidth": 2},
 "font": "Liberation Serif",
 "axis": {"labelFont": "Liberation Serif", "titleFont": "Liberation Serif", "labelFontSize": 34, "titleFontWeight": "normal", "labelColor": "#000", "titleColor": "#000", "tickColor": "#000", "tickWidth": 2, "domainColor": "#000", "grid": false, "labelOverlap": false, "labelFlush": false, "labelBound": false, "zindex": 1},
 "text": {"font": "Liberation Serif"}
}
}
